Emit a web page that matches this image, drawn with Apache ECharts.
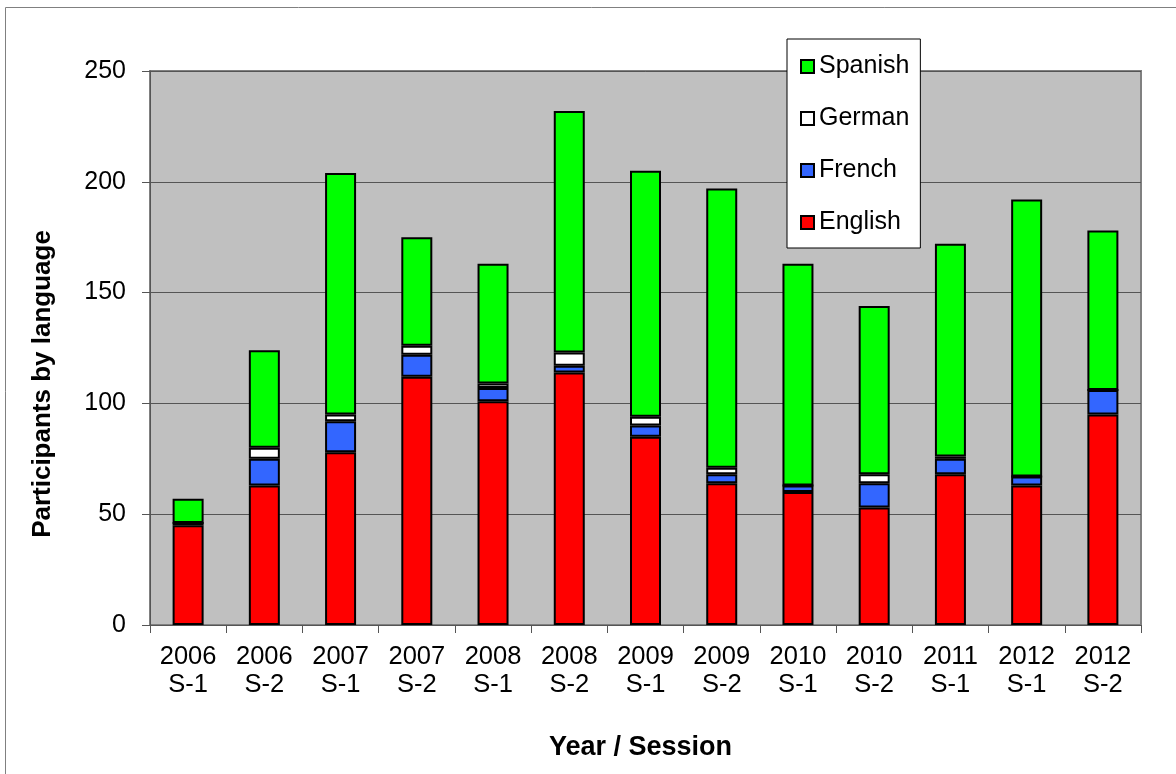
<!DOCTYPE html>
<html>
<head>
<meta charset="utf-8">
<script src="https://cdn.jsdelivr.net/npm/echarts@6/dist/echarts.min.js"></script>
<style>
html,body{margin:0;padding:0;background:#fff;}
#chart{width:1176px;height:774px;}
</style>
</head>
<body>
<div id="chart"></div>
<script>
const categories = ['2006\nS-1','2006\nS-2','2007\nS-1','2007\nS-2','2008\nS-1','2008\nS-2','2009\nS-1','2009\nS-2','2010\nS-1','2010\nS-2','2011\nS-1','2012\nS-1','2012\nS-2'];
const english = [45, 63, 78, 112, 101, 114, 85, 64, 60, 53, 68, 63, 95];
const french  = [1, 12, 14, 10, 6, 3, 5, 4, 3, 11, 7, 4, 11];
const german  = [0, 5, 3, 4, 2, 6, 4, 3, 0, 4, 1, 0, 0];
const spanish = [11, 44, 109, 49, 54, 109, 111, 126, 100, 76, 96, 125, 72];
const yTicks = [0, 50, 100, 150, 200, 250];
const yTitle = 'Participants by language';
const xTitle = 'Year / Session';

const FONT = '"Liberation Sans", Arial, sans-serif';
const chart = echarts.init(document.getElementById('chart'), null, {renderer: 'canvas'});

function bar(name, data, color) {
  return {
    name: name, type: 'bar', stack: 'total', data: data,
    barWidth: 31,
    itemStyle: {color: color, borderColor: '#000', borderWidth: 2},
    emphasis: {disabled: true}
  };
}

chart.setOption({
  animation: false,
  textStyle: {fontFamily: FONT},
  graphic: [{
    type: 'rect', shape: {x: 5.5, y: 7.5, width: 1300, height: 900},
    style: {fill: 'none', stroke: '#808080', lineWidth: 1}, silent: true, z: -10
  }, {
    type: 'text', x: 43, y: 384, rotation: Math.PI / 2, silent: true,
    style: {text: yTitle, fontSize: 26, fontWeight: 'bold', fill: '#000', fontFamily: FONT,
            align: 'center', verticalAlign: 'middle'}
  }],
  grid: {
    left: 150, right: 35, top: 71, bottom: 149,
    show: true, backgroundColor: '#c0c0c0', borderColor: '#808080', borderWidth: 2
  },
  legend: {
    orient: 'vertical', left: 787, top: 39,
    data: ['Spanish', 'German', 'French', 'English'],
    backgroundColor: '#fff', borderColor: '#000', borderWidth: 1,
    padding: [15, 11, 13, 13],
    itemWidth: 13, itemHeight: 13, itemGap: 27,
    icon: 'rect', selectedMode: false,
    textStyle: {fontSize: 25, color: '#000', fontFamily: FONT}
  },
  xAxis: {
    type: 'category', data: categories,
    axisLine: {lineStyle: {color: '#555', width: 1}},
    axisTick: {show: true, length: 8, lineStyle: {color: '#555'}},
    axisLabel: {fontSize: 25.5, color: '#000', lineHeight: 28, margin: 18, interval: 0, fontFamily: FONT},
    name: xTitle, nameLocation: 'middle', nameGap: 109,
    nameTextStyle: {fontSize: 27, fontWeight: 'bold', color: '#000', fontFamily: FONT, padding: [0, 10, 0, 0]}
  },
  yAxis: {
    type: 'value', min: yTicks[0], max: yTicks[yTicks.length - 1], interval: 50,
    axisLine: {show: true, lineStyle: {color: '#555', width: 1}},
    axisTick: {show: true, length: 8, lineStyle: {color: '#555'}},
    axisLabel: {fontSize: 25, color: '#000', margin: 24, fontFamily: FONT},
    splitLine: {show: true, lineStyle: {color: '#555', width: 1}}
  },
  series: [
    bar('English', english, '#ff0000'),
    bar('French', french, '#3366ff'),
    bar('German', german, '#ffffff'),
    bar('Spanish', spanish, '#00ff00')
  ]
});
</script>
</body>
</html>
